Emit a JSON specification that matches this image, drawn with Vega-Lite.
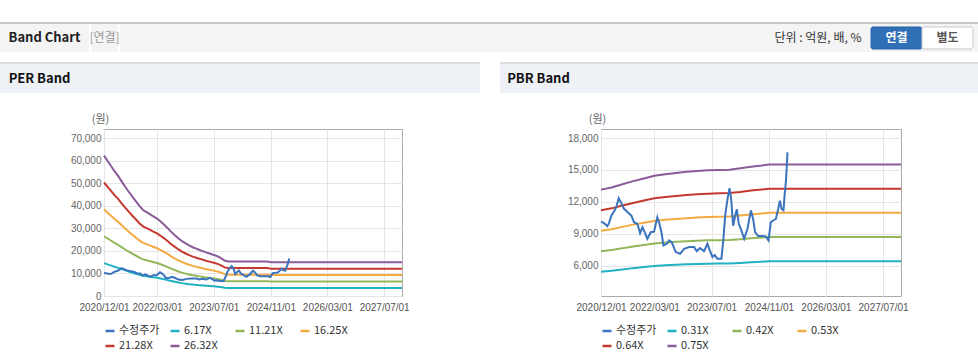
{
  "$schema": "https://vega.github.io/schema/vega-lite/v6.json",
  "background": "white",
  "padding": {"left": 0, "top": 22, "right": 0, "bottom": 0},
  "spacing": 10,
  "resolve": {"scale": {"color": "independent", "fill": "independent", "stroke": "independent"}, "legend": {"color": "independent"}},
  "config": {
    "view": {"stroke": null},
    "font": "Noto Sans CJK KR",
    "axis": {"labelFont": "Liberation Sans", "labelFontSize": 10, "labelColor": "#666666", "ticks": false, "domain": false, "gridColor": "#e6e6e6", "labelPadding": 3},
    "legend": {"labelFont": "Noto Sans CJK KR", "labelFontSize": 11, "labelColor": "#333333"}
  },
  "datasets": {
    "price": [
      {"t": "2020-12-01", "v": 10150}, {"t": "2020-12-27", "v": 10000}, {"t": "2021-01-24", "v": 9720}, {"t": "2021-02-07", "v": 10000},
      {"t": "2021-02-27", "v": 10700}, {"t": "2021-03-28", "v": 11200}, {"t": "2021-04-14", "v": 11650}, {"t": "2021-05-01", "v": 12340},
      {"t": "2021-05-18", "v": 12000}, {"t": "2021-06-15", "v": 11350}, {"t": "2021-07-19", "v": 11000}, {"t": "2021-08-17", "v": 10700},
      {"t": "2021-09-08", "v": 10090}, {"t": "2021-10-07", "v": 9940}, {"t": "2021-10-30", "v": 9060}, {"t": "2021-11-19", "v": 9620},
      {"t": "2021-12-08", "v": 9150}, {"t": "2021-12-31", "v": 8530}, {"t": "2022-01-29", "v": 9150}, {"t": "2022-02-26", "v": 9200},
      {"t": "2022-03-26", "v": 10560}, {"t": "2022-04-13", "v": 9940}, {"t": "2022-04-30", "v": 9150}, {"t": "2022-05-17", "v": 7900},
      {"t": "2022-06-14", "v": 8060}, {"t": "2022-07-04", "v": 8370}, {"t": "2022-07-27", "v": 8200}, {"t": "2022-08-30", "v": 7280},
      {"t": "2022-10-06", "v": 7120}, {"t": "2022-11-09", "v": 7590}, {"t": "2022-12-22", "v": 7750}, {"t": "2023-02-02", "v": 7750},
      {"t": "2023-02-25", "v": 7370}, {"t": "2023-03-25", "v": 7650}, {"t": "2023-04-28", "v": 7370}, {"t": "2023-05-27", "v": 8060},
      {"t": "2023-06-16", "v": 7430}, {"t": "2023-07-09", "v": 6810}, {"t": "2023-07-28", "v": 7000}, {"t": "2023-08-20", "v": 6650},
      {"t": "2023-09-23", "v": 6650}, {"t": "2023-10-10", "v": 8530}, {"t": "2023-10-25", "v": 10700}, {"t": "2023-11-14", "v": 12280},
      {"t": "2023-12-01", "v": 13280}, {"t": "2023-12-15", "v": 12280}, {"t": "2024-01-01", "v": 9750}, {"t": "2024-01-18", "v": 10700},
      {"t": "2024-02-01", "v": 11300}, {"t": "2024-02-18", "v": 9940}, {"t": "2024-03-06", "v": 9470}, {"t": "2024-04-04", "v": 8530},
      {"t": "2024-05-02", "v": 9470}, {"t": "2024-05-31", "v": 11200}, {"t": "2024-06-19", "v": 10400}, {"t": "2024-07-06", "v": 9150},
      {"t": "2024-08-01", "v": 8780}, {"t": "2024-09-07", "v": 8780}, {"t": "2024-10-05", "v": 8750}, {"t": "2024-10-28", "v": 8370},
      {"t": "2024-11-17", "v": 10100}, {"t": "2024-12-07", "v": 10250}, {"t": "2024-12-30", "v": 10400}, {"t": "2025-01-19", "v": 11350},
      {"t": "2025-02-02", "v": 12100}, {"t": "2025-02-16", "v": 11350}, {"t": "2025-03-05", "v": 11200}, {"t": "2025-03-14", "v": 12600},
      {"t": "2025-03-25", "v": 13860}, {"t": "2025-04-03", "v": 15560}, {"t": "2025-04-08", "v": 16650}
    ],
    "per": [
      {"t": "2020-12-01", "a": 14580, "b": 26490, "c": 38400, "d": 50290, "e": 62200},
      {"t": "2021-01-01", "a": 14020, "b": 25470, "c": 36920, "d": 48350, "e": 59800},
      {"t": "2021-02-01", "a": 13480, "b": 24490, "c": 35500, "d": 46490, "e": 57500},
      {"t": "2021-03-01", "a": 12960, "b": 23550, "c": 34140, "d": 44710, "e": 55300},
      {"t": "2021-04-01", "a": 12470, "b": 22660, "c": 32850, "d": 43010, "e": 53200},
      {"t": "2021-05-01", "a": 11910, "b": 21640, "c": 31360, "d": 41070, "e": 50800},
      {"t": "2021-06-01", "a": 11350, "b": 20610, "c": 29880, "d": 39130, "e": 48400},
      {"t": "2021-07-01", "a": 10830, "b": 19680, "c": 28520, "d": 37350, "e": 46200},
      {"t": "2021-08-01", "a": 10310, "b": 18740, "c": 27170, "d": 35570, "e": 44000},
      {"t": "2021-09-01", "a": 9820, "b": 17850, "c": 25870, "d": 33880, "e": 41900},
      {"t": "2021-10-01", "a": 9350, "b": 16990, "c": 24630, "d": 32260, "e": 39900},
      {"t": "2021-11-01", "a": 8930, "b": 16230, "c": 23520, "d": 30800, "e": 38100},
      {"t": "2021-12-01", "a": 8720, "b": 15840, "c": 22970, "d": 30080, "e": 37200},
      {"t": "2022-01-01", "a": 8490, "b": 15420, "c": 22350, "d": 29270, "e": 36200},
      {"t": "2022-02-01", "a": 8250, "b": 14990, "c": 21730, "d": 28460, "e": 35200},
      {"t": "2022-03-01", "a": 8040, "b": 14610, "c": 21180, "d": 27730, "e": 34300},
      {"t": "2022-04-01", "a": 7740, "b": 14050, "c": 20370, "d": 26680, "e": 33000},
      {"t": "2022-05-01", "a": 7410, "b": 13460, "c": 19510, "d": 25550, "e": 31600},
      {"t": "2022-06-01", "a": 7030, "b": 12780, "c": 18520, "d": 24260, "e": 30000},
      {"t": "2022-07-01", "a": 6660, "b": 12100, "c": 17530, "d": 22960, "e": 28400},
      {"t": "2022-08-01", "a": 6310, "b": 11460, "c": 16610, "d": 21750, "e": 26900},
      {"t": "2022-09-01", "a": 5980, "b": 10860, "c": 15740, "d": 20620, "e": 25500},
      {"t": "2022-10-01", "a": 5700, "b": 10350, "c": 15000, "d": 19650, "e": 24300},
      {"t": "2022-11-01", "a": 5460, "b": 9920, "c": 14390, "d": 18840, "e": 23300},
      {"t": "2022-12-01", "a": 5250, "b": 9540, "c": 13830, "d": 18110, "e": 22400},
      {"t": "2023-01-01", "a": 5060, "b": 9200, "c": 13340, "d": 17460, "e": 21600},
      {"t": "2023-02-01", "a": 4920, "b": 8940, "c": 12970, "d": 16980, "e": 21000},
      {"t": "2023-03-01", "a": 4780, "b": 8690, "c": 12590, "d": 16490, "e": 20400},
      {"t": "2023-04-01", "a": 4640, "b": 8430, "c": 12220, "d": 16010, "e": 19800},
      {"t": "2023-05-01", "a": 4500, "b": 8180, "c": 11850, "d": 15520, "e": 19200},
      {"t": "2023-06-01", "a": 4380, "b": 7960, "c": 11550, "d": 15120, "e": 18700},
      {"t": "2023-07-01", "a": 4270, "b": 7750, "c": 11240, "d": 14710, "e": 18200},
      {"t": "2023-08-01", "a": 4130, "b": 7500, "c": 10870, "d": 14230, "e": 17600},
      {"t": "2023-09-01", "a": 3940, "b": 7160, "c": 10370, "d": 13580, "e": 16800},
      {"t": "2023-10-01", "a": 3680, "b": 6690, "c": 9690, "d": 12690, "e": 15700},
      {"t": "2023-11-01", "a": 3590, "b": 6520, "c": 9450, "d": 12370, "e": 15300},
      {"t": "2024-10-01", "a": 3590, "b": 6520, "c": 9450, "d": 12370, "e": 15300},
      {"t": "2024-11-01", "a": 3520, "b": 6390, "c": 9260, "d": 12130, "e": 15000},
      {"t": "2027-12-01", "a": 3520, "b": 6390, "c": 9260, "d": 12130, "e": 15000}
    ],
    "pbr": [
      {"t": "2020-12-01", "a": 5440, "b": 7360, "c": 9290, "d": 11220, "e": 13150},
      {"t": "2021-03-01", "a": 5520, "b": 7480, "c": 9430, "d": 11390, "e": 13350},
      {"t": "2021-06-01", "a": 5640, "b": 7640, "c": 9650, "d": 11650, "e": 13650},
      {"t": "2021-09-01", "a": 5770, "b": 7810, "c": 9860, "d": 11900, "e": 13950},
      {"t": "2021-12-01", "a": 5870, "b": 7950, "c": 10030, "d": 12120, "e": 14200},
      {"t": "2022-03-01", "a": 5970, "b": 8090, "c": 10210, "d": 12330, "e": 14450},
      {"t": "2022-06-01", "a": 6030, "b": 8180, "c": 10320, "d": 12460, "e": 14600},
      {"t": "2022-09-01", "a": 6080, "b": 8240, "c": 10400, "d": 12560, "e": 14720},
      {"t": "2022-12-01", "a": 6130, "b": 8300, "c": 10470, "d": 12650, "e": 14820},
      {"t": "2023-03-01", "a": 6160, "b": 8340, "c": 10530, "d": 12710, "e": 14900},
      {"t": "2023-06-01", "a": 6190, "b": 8380, "c": 10580, "d": 12770, "e": 14970},
      {"t": "2023-09-01", "a": 6200, "b": 8400, "c": 10600, "d": 12800, "e": 15000},
      {"t": "2023-12-01", "a": 6210, "b": 8420, "c": 10620, "d": 12830, "e": 15030},
      {"t": "2024-03-01", "a": 6260, "b": 8480, "c": 10710, "d": 12930, "e": 15150},
      {"t": "2024-06-01", "a": 6320, "b": 8570, "c": 10810, "d": 13060, "e": 15300},
      {"t": "2024-09-01", "a": 6370, "b": 8640, "c": 10900, "d": 13160, "e": 15420},
      {"t": "2024-11-01", "a": 6410, "b": 8690, "c": 10970, "d": 13240, "e": 15520},
      {"t": "2027-12-01", "a": 6410, "b": 8690, "c": 10970, "d": 13240, "e": 15520}
    ]
  },
  "vconcat": [
    {
      "spacing": 0,
      "vconcat": [
        {"width": 978, "height": 2, "view": {"fill": "#c8c8c8"}, "data": {"values": [{}]}, "mark": {"type": "text", "text": "", "fontSize": 0}, "encoding": {}},
        {
          "spacing": 0,
          "hconcat": [
            {"width": 89, "height": 28, "view": {"fill": "#f4f4f4"}, "data": {"values": [{"s": "Band Chart"}]}, "mark": {"type": "text", "fontSize": 13, "fontWeight": "bold", "color": "#222222"}, "encoding": {"text": {"field": "s"}}},
            {"width": 27, "height": 28, "view": {"fill": "#f4f4f4"}, "data": {"values": [{"s": "[연결]"}]}, "mark": {"type": "text", "fontSize": 12, "color": "#999999"}, "encoding": {"text": {"field": "s"}}},
            {"width": 652, "height": 28, "view": {"fill": "#f4f4f4"}, "data": {"values": [{}]}, "mark": {"type": "text", "text": "", "fontSize": 0}, "encoding": {}},
            {"width": 92, "height": 28, "view": {"fill": "#f4f4f4"}, "data": {"values": [{"s": "단위 : 억원, 배, %"}]}, "mark": {"type": "text", "fontSize": 12, "color": "#333333"}, "encoding": {"text": {"field": "s"}}},
            {"width": 6, "height": 28, "view": {"fill": "#f4f4f4"}, "data": {"values": [{}]}, "mark": {"type": "text", "text": "", "fontSize": 0}, "encoding": {}},
            {
              "width": 102, "height": 28, "view": {"fill": "#f4f4f4"},
              "data": {"values": [{"b": "연결"}, {"b": "별도"}]},
              "encoding": {
                "x": {"field": "b", "type": "nominal", "scale": {"domain": ["연결", "별도"], "paddingInner": 0, "paddingOuter": 0}, "axis": null},
                "y": {"datum": "btn", "type": "nominal", "scale": {"paddingInner": 0, "paddingOuter": 0.136}, "axis": null}
              },
              "layer": [
                {"mark": {"type": "rect", "strokeWidth": 1, "cornerRadius": 2},
                 "encoding": {
                   "fill": {"field": "b", "type": "nominal", "scale": {"domain": ["연결", "별도"], "range": ["#2f6fb6", "#ffffff"]}, "legend": null},
                   "stroke": {"field": "b", "type": "nominal", "scale": {"domain": ["연결", "별도"], "range": ["#2a62a3", "#c8c8c8"]}, "legend": null}
                 }},
                {"transform": [{"filter": "datum.b == '연결'"}],
                 "mark": {"type": "text", "fontSize": 12, "fontWeight": "bold", "color": "#ffffff"},
                 "encoding": {"text": {"field": "b"}}},
                {"transform": [{"filter": "datum.b == '별도'"}],
                 "mark": {"type": "text", "fontSize": 12, "fontWeight": "bold", "color": "#555555"},
                 "encoding": {"text": {"field": "b"}}}
              ]
            },
            {"width": 10, "height": 28, "view": {"fill": "#f4f4f4"}, "data": {"values": [{}]}, "mark": {"type": "text", "text": "", "fontSize": 0}, "encoding": {}}
          ]
        }
      ]
    },
    {
      "spacing": 20,
      "resolve": {"scale": {"color": "independent"}, "legend": {"color": "independent"}},
      "hconcat": [
        {
          "spacing": 19,
          "resolve": {"scale": {"color": "independent"}, "legend": {"color": "independent"}},
          "vconcat": [
            {
              "spacing": 0,
              "vconcat": [
                {"width": 480, "height": 2, "view": {"fill": "#dcdcdc"}, "data": {"values": [{}]}, "mark": {"type": "text", "text": "", "fontSize": 0}, "encoding": {}},
                {
                  "spacing": 0,
                  "hconcat": [
                    {"width": 79, "height": 29, "view": {"fill": "#eef2f7"}, "data": {"values": [{"s": "PER Band"}]}, "mark": {"type": "text", "fontSize": 13, "fontWeight": "bold", "color": "#111111"}, "encoding": {"text": {"field": "s"}}},
                    {"width": 401, "height": 29, "view": {"fill": "#eef2f7"}, "data": {"values": [{}]}, "mark": {"type": "text", "text": "", "fontSize": 0}, "encoding": {}}
                  ]
                }
              ]
            },
            {
              "spacing": 0,
              "resolve": {"scale": {"color": "independent"}, "legend": {"color": "independent"}},
              "hconcat": [
                {"width": 1, "height": 1, "data": {"values": [{}]}, "mark": {"type": "text", "text": "", "fontSize": 0}, "encoding": {}},
                {
                  "width": 298, "height": 167,
                  "view": {"stroke": "#aaaaaa"},
                  "encoding": {
                    "x": {"field": "t", "type": "temporal",
                      "scale": {"type": "utc", "domain": [{"year": 2020, "month": 12, "date": 1, "utc": true}, {"year": 2027, "month": 12, "date": 1, "utc": true}]},
                      "axis": {"title": null, "format": "%Y/%m/%d", "grid": true, "labelOverlap": false, "labelFlush": false, "labelColor": "#555555", "labelPadding": 6,
                        "values": [{"year": 2020, "month": 12, "date": 1, "utc": true}, {"year": 2022, "month": 3, "date": 1, "utc": true}, {"year": 2023, "month": 7, "date": 1, "utc": true}, {"year": 2024, "month": 11, "date": 1, "utc": true}, {"year": 2026, "month": 3, "date": 1, "utc": true}, {"year": 2027, "month": 7, "date": 1, "utc": true}]}},
                    "y": {"field": "v", "type": "quantitative",
                      "scale": {"domain": [0, 74000], "nice": false, "zero": false},
                      "axis": {"values": [0, 10000, 20000, 30000, 40000, 50000, 60000, 70000], "format": ",d", "grid": true,
                        "title": "(원)", "titleAngle": 0, "titleX": -4, "titleY": -5, "titleAlign": "center", "titleBaseline": "bottom", "titleFontWeight": "normal", "titleFontSize": 11, "titleColor": "#666666", "titleFont": "Noto Sans CJK KR",
                        "minExtent": 102, "maxExtent": 102}}
                  },
                  "layer": [
                    {
                      "data": {"name": "per"},
                      "transform": [{"fold": ["a", "b", "c", "d", "e"], "as": ["k", "v"]}],
                      "mark": {"type": "line", "strokeWidth": 2},
                      "encoding": {
                        "color": {"field": "k", "type": "nominal",
                          "scale": {"domain": ["수정주가", "a", "b", "c", "d", "e"], "range": ["#3b74be", "#22b1c3", "#92b75a", "#f3aa40", "#c3392f", "#8b5a98"]},
                          "legend": {"title": null, "orient": "bottom", "direction": "horizontal", "columns": 4, "symbolType": "stroke", "symbolStrokeWidth": 2.5, "symbolSize": 81, "columnPadding": 5, "rowPadding": 4, "gridAlign": "all", "offset": 13, "labelOffset": 3,
                            "labelExpr": "datum.label == 'a' ? '6.17X' : datum.label == 'b' ? '11.21X' : datum.label == 'c' ? '16.25X' : datum.label == 'd' ? '21.28X' : datum.label == 'e' ? '26.32X' : datum.label"}}
                      }
                    },
                    {
                      "data": {"name": "price"},
                      "mark": {"type": "line", "strokeWidth": 2},
                      "encoding": {"color": {"datum": "수정주가", "type": "nominal"}}
                    }
                  ]
                }
              ]
            }
          ]
        },
        {
          "spacing": 19,
          "resolve": {"scale": {"color": "independent"}, "legend": {"color": "independent"}},
          "vconcat": [
            {
              "spacing": 0,
              "vconcat": [
                {"width": 478, "height": 2, "view": {"fill": "#dcdcdc"}, "data": {"values": [{}]}, "mark": {"type": "text", "text": "", "fontSize": 0}, "encoding": {}},
                {
                  "spacing": 0,
                  "hconcat": [
                    {"width": 77, "height": 29, "view": {"fill": "#eef2f7"}, "data": {"values": [{"s": "PBR Band"}]}, "mark": {"type": "text", "fontSize": 13, "fontWeight": "bold", "color": "#111111"}, "encoding": {"text": {"field": "s"}}},
                    {"width": 401, "height": 29, "view": {"fill": "#eef2f7"}, "data": {"values": [{}]}, "mark": {"type": "text", "text": "", "fontSize": 0}, "encoding": {}}
                  ]
                }
              ]
            },
            {
              "spacing": 0,
              "resolve": {"scale": {"color": "independent"}, "legend": {"color": "independent"}},
              "hconcat": [
                {"width": 1, "height": 1, "data": {"values": [{}]}, "mark": {"type": "text", "text": "", "fontSize": 0}, "encoding": {}},
                {
                  "width": 300, "height": 167,
                  "view": {"stroke": "#aaaaaa"},
                  "encoding": {
                    "x": {"field": "t", "type": "temporal",
                      "scale": {"type": "utc", "domain": [{"year": 2020, "month": 12, "date": 1, "utc": true}, {"year": 2027, "month": 12, "date": 1, "utc": true}]},
                      "axis": {"title": null, "format": "%Y/%m/%d", "grid": true, "labelOverlap": false, "labelFlush": false, "labelColor": "#555555", "labelPadding": 6,
                        "values": [{"year": 2020, "month": 12, "date": 1, "utc": true}, {"year": 2022, "month": 3, "date": 1, "utc": true}, {"year": 2023, "month": 7, "date": 1, "utc": true}, {"year": 2024, "month": 11, "date": 1, "utc": true}, {"year": 2026, "month": 3, "date": 1, "utc": true}, {"year": 2027, "month": 7, "date": 1, "utc": true}]}},
                    "y": {"field": "v", "type": "quantitative",
                      "scale": {"domain": [3150, 18850], "nice": false, "zero": false},
                      "axis": {"values": [6000, 9000, 12000, 15000, 18000], "format": ",d", "grid": true,
                        "title": "(원)", "titleAngle": 0, "titleX": -4, "titleY": -5, "titleAlign": "center", "titleBaseline": "bottom", "titleFontWeight": "normal", "titleFontSize": 11, "titleColor": "#666666", "titleFont": "Noto Sans CJK KR",
                        "minExtent": 99, "maxExtent": 99}}
                  },
                  "layer": [
                    {
                      "data": {"name": "pbr"},
                      "transform": [{"fold": ["a", "b", "c", "d", "e"], "as": ["k", "v"]}],
                      "mark": {"type": "line", "strokeWidth": 2},
                      "encoding": {
                        "color": {"field": "k", "type": "nominal",
                          "scale": {"domain": ["수정주가", "a", "b", "c", "d", "e"], "range": ["#3b74be", "#22b1c3", "#92b75a", "#f3aa40", "#c3392f", "#8b5a98"]},
                          "legend": {"title": null, "orient": "bottom", "direction": "horizontal", "columns": 4, "symbolType": "stroke", "symbolStrokeWidth": 2.5, "symbolSize": 81, "columnPadding": 5, "rowPadding": 4, "gridAlign": "all", "offset": 13, "labelOffset": 3,
                            "labelExpr": "datum.label == 'a' ? '0.31X' : datum.label == 'b' ? '0.42X' : datum.label == 'c' ? '0.53X' : datum.label == 'd' ? '0.64X' : datum.label == 'e' ? '0.75X' : datum.label"}}
                      }
                    },
                    {
                      "data": {"name": "price"},
                      "mark": {"type": "line", "strokeWidth": 2},
                      "encoding": {"color": {"datum": "수정주가", "type": "nominal"}}
                    }
                  ]
                }
              ]
            }
          ]
        }
      ]
    }
  ]
}
